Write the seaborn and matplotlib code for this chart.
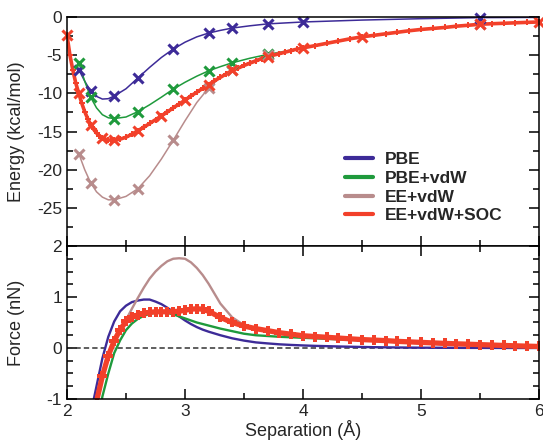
import numpy as np
import pandas as pd
import matplotlib
matplotlib.use("Agg")
import matplotlib.pyplot as plt
import seaborn as sns
from matplotlib.lines import Line2D
from matplotlib.ticker import MultipleLocator

# colours of the four methods
c_pbe = "#3d2b98"
c_vdw = "#1f9a3c"
c_ee = "#b88c8c"
c_soc = "#f2402a"

# ---- energy: computed points (big x markers) ----
sep_pbe_pts = [2.1, 2.2, 2.4, 2.6, 2.9, 3.2, 3.4, 3.7, 4.0, 5.5]
e_pbe_pts = [-6.9, -9.7, -10.3, -8.0, -4.2, -2.1, -1.45, -0.9, -0.65, -0.08]

sep_vdw_pts = [2.1, 2.2, 2.4, 2.6, 2.9, 3.2, 3.4, 3.7]
e_vdw_pts = [-6.0, -10.5, -13.3, -12.4, -9.45, -7.05, -6.0, -4.85]

sep_ee_pts = [2.1, 2.2, 2.4, 2.6, 2.9, 3.2, 3.4, 3.7, 5.5]
e_ee_pts = [-17.9, -21.7, -23.95, -22.5, -16.15, -9.3, -6.95, -4.95, -0.95]

sep_soc_pts = [2.0, 2.1, 2.2, 2.3, 2.4, 2.6, 2.8, 3.0, 3.2, 3.4, 3.7, 4.0, 4.5, 5.5, 6.0]
e_soc_pts = [-2.4, -10.0, -14.1, -15.85, -16.15, -14.9, -12.95, -10.9, -8.85,
             -7.0, -5.2, -4.05, -2.6, -0.95, -0.65]

# ---- energy: fitted curves ----
sep_curve = [2.1, 2.15, 2.2, 2.25, 2.3, 2.35, 2.4, 2.5, 2.6, 2.7, 2.8, 2.9, 3.0,
             3.1, 3.2, 3.3, 3.4, 3.55, 3.7, 4.0, 4.5, 5.0, 5.5, 6.0]
e_pbe_curve = [-6.9, -8.4, -9.7, -10.4, -10.75, -10.7, -10.35, -9.4, -8.0, -6.6,
               -5.3, -4.2, -3.3, -2.6, -2.1, -1.75, -1.45, -1.15, -0.9, -0.65,
               -0.4, -0.22, -0.08, -0.05]
e_vdw_curve = [-6.0, -8.4, -10.5, -11.9, -12.8, -13.2, -13.3, -13.1, -12.4, -11.5,
               -10.5, -9.45, -8.55, -7.75, -7.05, -6.5, -6.0, -5.4, -4.9, -4.05,
               -2.6, -1.62, -0.95, -0.65]
e_ee_curve = [-17.9, -20.0, -21.7, -22.9, -23.6, -23.95, -23.95, -23.5, -22.5, -20.8,
              -18.6, -16.15, -13.6, -11.2, -9.3, -7.9, -6.95, -5.9, -5.0, -4.05,
              -2.6, -1.62, -0.95, -0.65]

sep_soc_curve = [2.0, 2.025, 2.05, 2.075, 2.1, 2.125, 2.15, 2.175, 2.2, 2.225, 2.25,
                 2.275, 2.3, 2.325, 2.35, 2.375, 2.4, 2.45, 2.5, 2.55, 2.6, 2.65,
                 2.7, 2.75, 2.8, 2.85, 2.9, 2.95, 3.0, 3.05, 3.1, 3.15, 3.2, 3.25,
                 3.3, 3.35, 3.4, 3.45, 3.5, 3.55, 3.6, 3.65, 3.7, 3.75, 3.8, 3.85,
                 3.9, 3.95, 4.0, 4.1, 4.2, 4.3, 4.4, 4.5, 4.6, 4.7, 4.8, 4.9, 5.0,
                 5.1, 5.2, 5.3, 5.4, 5.5, 5.6, 5.7, 5.8, 5.9, 6.0]
e_soc_curve = [-2.4, -5.0, -7.0, -8.7, -10.0, -11.3, -12.4, -13.3, -14.1, -14.7, -15.2,
               -15.55, -15.85, -16.0, -16.1, -16.15, -16.15, -16.0, -15.75, -15.35, -14.9, -14.45,
               -13.95, -13.45, -12.95, -12.45, -11.9, -11.4, -10.9, -10.35, -9.85, -9.35, -8.85, -8.35,
               -7.9, -7.45, -7.0, -6.7, -6.35, -6.05, -5.75, -5.45, -5.2, -5.0, -4.8, -4.6,
               -4.4, -4.2, -4.05, -3.75, -3.45, -3.15, -2.85, -2.6, -2.4, -2.2, -2.0, -1.8, -1.63,
               -1.5, -1.37, -1.2, -1.08, -0.95, -0.88, -0.82, -0.76, -0.7, -0.65]

# ---- force ----
sep_force = [2.20, 2.25, 2.30, 2.35, 2.40, 2.45, 2.50, 2.55, 2.60, 2.65, 2.70, 2.75,
             2.80, 2.85, 2.90, 2.95, 3.00, 3.05, 3.10, 3.15, 3.20, 3.3, 3.4, 3.5,
             3.6, 3.7, 3.8, 3.9, 4.0, 4.1, 4.2, 4.3, 4.4, 4.5, 4.6, 4.7, 4.8, 4.9,
             5.0, 5.1, 5.2, 5.3, 5.4, 5.5, 5.6, 5.7, 5.8, 5.9, 6.0]
f_pbe = [-1.3, -0.75, -0.2, 0.22, 0.52, 0.72, 0.83, 0.9, 0.93, 0.95, 0.95, 0.91,
         0.86, 0.79, 0.71, 0.62, 0.54, 0.47, 0.41, 0.36, 0.32, 0.25, 0.19, 0.145,
         0.11, 0.09, 0.072, 0.06, 0.05, 0.042, 0.036, 0.03, 0.025, 0.02, 0.016, 0.013, 0.01, 0.008,
         0.006, 0.005, 0.004, 0.003, 0.002, 0.002, 0.001, 0.001, 0.0, 0.0, 0.0]
f_vdw = [-2.0, -1.55, -0.95, -0.5, -0.1, 0.15, 0.35, 0.48, 0.57, 0.63, 0.67, 0.69,
         0.70, 0.69, 0.66, 0.62, 0.58, 0.54, 0.5, 0.47, 0.44, 0.38, 0.33, 0.28,
         0.25, 0.235, 0.22, 0.21, 0.2, 0.19, 0.18, 0.17, 0.16, 0.15, 0.14, 0.13, 0.115, 0.105,
         0.095, 0.085, 0.075, 0.068, 0.06, 0.055, 0.048, 0.042, 0.037, 0.033, 0.03]
f_ee = [-1.8, -1.05, -0.55, -0.15, 0.14, 0.36, 0.55, 0.77, 0.98, 1.18, 1.36, 1.5,
        1.61, 1.7, 1.75, 1.76, 1.75, 1.68, 1.57, 1.43, 1.26, 0.87, 0.6, 0.45,
        0.38, 0.33, 0.3, 0.27, 0.24, 0.225, 0.21, 0.195, 0.18, 0.165, 0.155, 0.145, 0.13, 0.12,
        0.11, 0.1, 0.09, 0.082, 0.074, 0.066, 0.058, 0.05, 0.043, 0.036, 0.03]
f_soc = [-1.8, -1.05, -0.55, -0.15, 0.14, 0.36, 0.52, 0.6, 0.65, 0.68, 0.7, 0.71,
         0.71, 0.71, 0.715, 0.72, 0.74, 0.76, 0.77, 0.76, 0.72, 0.6, 0.5, 0.43,
         0.38, 0.34, 0.3, 0.27, 0.24, 0.225, 0.21, 0.195, 0.18, 0.165, 0.155, 0.145, 0.13, 0.12,
         0.11, 0.1, 0.09, 0.082, 0.074, 0.066, 0.058, 0.05, 0.043, 0.036, 0.03]

labels = ["PBE", "PBE+vdW", "EE+vdW", "EE+vdW+SOC"]

sns.set_theme(style="ticks")
plt.rcParams["font.family"] = ["Liberation Sans", "DejaVu Sans"]
plt.rcParams["axes.unicode_minus"] = False

fig, (ax1, ax2) = plt.subplots(2, 1, figsize=(5.43, 4.42), dpi=100, sharex=True,
                               gridspec_kw={"height_ratios": [229, 153]})
fig.subplots_adjust(left=0.1234, right=0.9926, top=0.9615, bottom=0.0973, hspace=0)

# energy panel
sns.lineplot(x=sep_curve, y=e_pbe_curve, ax=ax1, color=c_pbe, lw=1.1)
sns.lineplot(x=sep_curve, y=e_vdw_curve, ax=ax1, color=c_vdw, lw=1.1)
sns.lineplot(x=sep_curve, y=e_ee_curve, ax=ax1, color=c_ee, lw=1.1)
sns.lineplot(x=sep_soc_curve, y=e_soc_curve, ax=ax1, color=c_soc, lw=2.6,
             marker="P", markersize=4.5, markeredgewidth=0)
for sx, sy, c in [(sep_pbe_pts, e_pbe_pts, c_pbe), (sep_vdw_pts, e_vdw_pts, c_vdw),
                  (sep_ee_pts, e_ee_pts, c_ee), (sep_soc_pts, e_soc_pts, c_soc)]:
    ax1.plot(sx, sy, ls="none", marker="x", ms=7, mew=2.2, color=c, clip_on=False)

ax1.set_ylim(-30, 0)
ax1.set_ylabel("Energy (kcal/mol)", fontsize=13)
ax1.yaxis.set_minor_locator(MultipleLocator(2.5))
ax1.set_yticks([0, -5, -10, -15, -20, -25])

handles = [Line2D([], [], color=c, lw=3) for c in [c_pbe, c_vdw, c_ee, c_soc]]
ax1.legend(handles, labels, loc="upper left", bbox_to_anchor=(0.575, 0.44), frameon=False,
           prop={"weight": "bold", "size": 12.5}, handlelength=1.6, labelspacing=0.2,
           handletextpad=0.7, borderaxespad=0)

# force panel
ax2.axhline(0, color="#333333", lw=1.1, ls=(0, (3.5, 2)))
sns.lineplot(x=sep_force, y=f_pbe, ax=ax2, color=c_pbe, lw=1.7)
sns.lineplot(x=sep_force, y=f_vdw, ax=ax2, color=c_vdw, lw=1.7)
sns.lineplot(x=sep_force, y=f_ee, ax=ax2, color=c_ee, lw=1.7)
sns.lineplot(x=sep_force, y=f_soc, ax=ax2, color=c_soc, lw=3.8,
             marker="P", markersize=6.5, markeredgewidth=0)
ax2.set_ylim(-1, 2)
ax2.set_yticks([-1, 0, 1, 2])
ax2.yaxis.set_minor_locator(MultipleLocator(0.25))
ax2.set_ylabel("Force (nN)", fontsize=13)
ax2.set_xlim(2, 6)
ax2.xaxis.set_major_locator(MultipleLocator(1))
ax2.xaxis.set_minor_locator(MultipleLocator(0.5))
ax2.set_xlabel("Separation (Å)", fontsize=13, labelpad=1)

for ax in (ax1, ax2):
    for sp in ax.spines.values():
        sp.set_visible(True)
        sp.set_linewidth(1.1)
        sp.set_color("black")
    ax.tick_params(which="both", direction="in", right=True, labelsize=12.5,
                   color="black", width=1.1)
    ax.tick_params(which="major", length=7)
    ax.tick_params(which="minor", length=4)
ax1.tick_params(which="both", top=False, bottom=True)
ax2.tick_params(which="both", top=True, bottom=True)
ax1.yaxis.set_label_coords(-0.09, 0.5)
ax2.yaxis.set_label_coords(-0.09, 0.5)

fig.savefig("out.png", dpi=100)
